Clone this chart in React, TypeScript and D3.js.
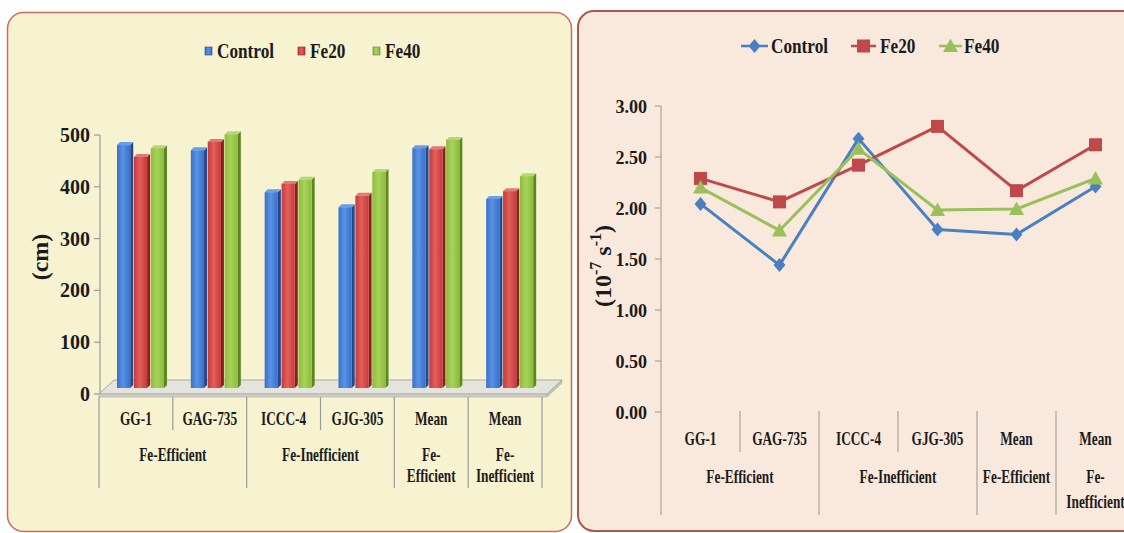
import React from "react";
import * as d3 from "d3";

// ---------- data ----------
const categoryKeys = ["GG-1", "GAG-735", "ICCC-4", "GJG-305", "Mean Fe-Efficient", "Mean Fe-Inefficient"];
const categoryLabels = ["GG-1", "GAG-735", "ICCC-4", "GJG-305", "Mean", "Mean"];
const seriesNames = ["Control", "Fe20", "Fe40"];

// left chart: length (cm)
const lengthControl = [469, 459, 378, 349, 463, 365];
const lengthFe20 = [446, 475, 394, 371, 461, 380];
const lengthFe40 = [463, 490, 402, 417, 479, 409];

// right chart: rate (10^-7 s^-1)
const rateControl = [2.04, 1.44, 2.68, 1.79, 1.74, 2.21];
const rateFe20 = [2.29, 2.06, 2.42, 2.8, 2.17, 2.62];
const rateFe40 = [2.2, 1.78, 2.58, 1.98, 1.99, 2.29];

const leftTicks = [0, 100, 200, 300, 400, 500];
const rightTicks = [0, 0.5, 1, 1.5, 2, 2.5, 3];

// group labels (span in categories, text lines)
const groupSpans = [2, 2, 1, 1];
const leftGroupLines = [["Fe-Efficient"], ["Fe-Inefficient"], ["Fe-", "Efficient"], ["Fe-", "Inefficient"]];
const rightGroupLines = [["Fe-Efficient"], ["Fe-Inefficient"], ["Fe-Efficient"], ["Fe-", "Inefficient"]];

// ---------- styles ----------
const FONT = "'Liberation Serif', 'Times New Roman', serif";
const barFront = ["#3870c8", "#c8383a", "#8cbc3c"];
const barFrontLight = ["#5a92e6", "#e2605a", "#a8d25a"];
const barSide = ["#21488f", "#8a1f22", "#5c8622"];
const barTop = ["#6a9ee8", "#e07a76", "#b4d874"];
const lineColors = ["#4a7fc1", "#c0474a", "#99c05a"];

const T = ({ x, y, children, size = 18, anchor = "middle", sx = 0.74, fill = "#1b1b1b" }: any) => (
  <text
    transform={`translate(${x},${y}) scale(${sx},1)`}
    textAnchor={anchor}
    dominantBaseline="central"
    fontSize={size}
    fontWeight="bold"
    fontFamily={FONT}
    fill={fill}
  >
    {children}
  </text>
);

function Marker({ kind, x, y, color }: any) {
  if (kind === 0) {
    const s = 7;
    return <path d={`M${x},${y - s} L${x + s * 0.85},${y} L${x},${y + s} L${x - s * 0.85},${y} Z`} fill={color} />;
  }
  if (kind === 1) {
    const s = 6.5;
    return <rect x={x - s} y={y - s} width={2 * s} height={2 * s} fill={color} />;
  }
  const s = 7.5;
  return <path d={`M${x},${y - s} L${x + s},${y + s * 0.8} L${x - s},${y + s * 0.8} Z`} fill={color} />;
}

function LeftChart() {
  const x0 = d3.scaleBand<string>().domain(categoryKeys).range([99, 542]).padding(0);
  const x1 = d3.scaleBand<string>().domain(seriesNames).range([18, 68]).paddingInner(0.04);
  const y = d3.scaleLinear().domain([0, 500]).range([394, 135]);
  const series = [lengthControl, lengthFe20, lengthFe40];
  const depth = 3;
  const lift = 6;
  const bw = x1.bandwidth();
  const fw = bw - depth;

  let acc = 0;
  const groupStarts = groupSpans.map((s) => {
    const st = acc;
    acc += s;
    return st;
  });

  return (
    <g>
      <defs>
        {barFront.map((c, i) => (
          <linearGradient key={i} id={`bg${i}`} x1="0" x2="1" y1="0" y2="0">
            <stop offset="0" stopColor={c} />
            <stop offset="0.45" stopColor={barFrontLight[i]} />
            <stop offset="1" stopColor={c} />
          </linearGradient>
        ))}
      </defs>
      {/* legend */}
      {seriesNames.map((s, i) => {
        const sqx = [205, 298, 373][i];
        return (
          <g key={s}>
            <rect x={sqx} y={47} width={7} height={8} fill={`url(#bg${i})`} stroke={barSide[i]} strokeWidth={0.6} />
            <T x={sqx + 12} y={51} size={21} anchor="start" sx={0.82}>
              {s}
            </T>
          </g>
        );
      })}
      {/* y axis title */}
      <text
        transform="translate(40,257) rotate(-90)"
        textAnchor="middle"
        dominantBaseline="central"
        fontSize={24}
        fontWeight="bold"
        fontFamily={FONT}
        fill="#1b1b1b"
      >
        (cm)
      </text>
      {/* y axis */}
      <line x1={100} x2={100} y1={y(500)} y2={y(0)} stroke="#9a9a9a" strokeWidth={1.2} />
      {leftTicks.map((t) => (
        <g key={t}>
          <line x1={94} x2={100} y1={y(t)} y2={y(t)} stroke="#9a9a9a" strokeWidth={1.2} />
          <T x={90} y={y(t)} size={20} anchor="end" sx={1}>
            {t}
          </T>
        </g>
      ))}
      {/* floor */}
      <polygon points={`99,394 547,394 562,380 114,380`} fill="#e4e4dc" stroke="#a8a8a0" strokeWidth={1} />
      <polygon points={`99,394 547,394 547,397 99,397`} fill="#cfcfc8" stroke="#a8a8a0" strokeWidth={0.6} />
      <polygon points={`547,394 562,380 562,383 547,397`} fill="#c4c4bc" stroke="#a8a8a0" strokeWidth={0.6} />
      {/* bars */}
      {categoryKeys.map((k, ci) =>
        series.map((vals, si) => {
          const bx = (x0(k) as number) + (x1(seriesNames[si]) as number);
          const top = y(vals[ci]) - lift;
          const base = y(0) - lift;
          return (
            <g key={`${k}-${si}`}>
              <polygon
                points={`${bx + fw},${top} ${bx + fw + depth},${top - depth} ${bx + fw + depth},${base - depth} ${bx + fw},${base}`}
                fill={barSide[si]}
              />
              <polygon
                points={`${bx},${top} ${bx + fw},${top} ${bx + fw + depth},${top - depth} ${bx + depth},${top - depth}`}
                fill={barTop[si]}
              />
              <rect x={bx} y={top} width={fw} height={base - top} fill={`url(#bg${si})`} />
            </g>
          );
        })
      )}
      {/* category separators */}
      {d3.range(categoryKeys.length + 1).map((i) => {
        const xx = i < categoryKeys.length ? (x0(categoryKeys[i]) as number) : 542;
        const isGroup = i === categoryKeys.length || groupStarts.includes(i);
        return <line key={i} x1={xx} x2={xx} y1={397} y2={isGroup ? 488 : 430} stroke="#9a9a9a" strokeWidth={1.2} />;
      })}
      {categoryLabels.map((l, i) => (
        <T key={i} x={(x0(categoryKeys[i]) as number) + x0.bandwidth() / 2} y={419}>
          {l}
        </T>
      ))}
      {leftGroupLines.map((lines, gi) => {
        const a = x0(categoryKeys[groupStarts[gi]]) as number;
        const cx = a + (x0.bandwidth() * groupSpans[gi]) / 2;
        return lines.map((ln, li) => (
          <T key={`${gi}-${li}`} x={cx} y={455 + li * 21}>
            {ln}
          </T>
        ));
      })}
    </g>
  );
}

function RightChart() {
  const x = d3.scaleBand<string>().domain(categoryKeys).range([661, 1135]).padding(0);
  const y = d3.scaleLinear().domain([0, 3]).range([412, 106]);
  const series = [rateControl, rateFe20, rateFe40];
  const line = d3
    .line<number>()
    .x((_, i) => (x(categoryKeys[i]) as number) + x.bandwidth() / 2)
    .y((d) => y(d));

  let acc = 0;
  const groupStarts = groupSpans.map((s) => {
    const st = acc;
    acc += s;
    return st;
  });

  const legendPos = [
    [741, 768, 771],
    [851, 876, 880],
    [939, 962, 964],
  ];

  return (
    <g>
      {seriesNames.map((s, i) => {
        const [a, b, t] = legendPos[i];
        return (
          <g key={s}>
            <line x1={a} x2={b} y1={46} y2={46} stroke={lineColors[i]} strokeWidth={2.5} />
            <Marker kind={i} x={(a + b) / 2} y={46} color={lineColors[i]} />
            <T x={t} y={46} size={21} anchor="start" sx={0.82}>
              {s}
            </T>
          </g>
        );
      })}
      <text
        transform="translate(603,266) rotate(-90)"
        textAnchor="middle"
        dominantBaseline="central"
        fontSize={24}
        fontWeight="bold"
        fontFamily={FONT}
        fill="#1b1b1b"
      >
        (10
        <tspan fontSize={16} dy={-8}>
          -7
        </tspan>
        <tspan dy={8}> s</tspan>
        <tspan fontSize={16} dy={-8}>
          -1
        </tspan>
        <tspan dy={8}>)</tspan>
      </text>
      <line x1={661} x2={661} y1={y(3)} y2={515} stroke="#a9a39e" strokeWidth={1.2} />
      {rightTicks.map((t) => (
        <g key={t}>
          <line x1={655} x2={661} y1={y(t)} y2={y(t)} stroke="#a9a39e" strokeWidth={1.2} />
          <T x={647} y={y(t)} size={19} anchor="end" sx={0.95}>
            {t.toFixed(2)}
          </T>
        </g>
      ))}
      {d3.range(1, categoryKeys.length + 1).map((i) => {
        const xx = i < categoryKeys.length ? (x(categoryKeys[i]) as number) : 1135;
        const isGroup = i === categoryKeys.length || groupStarts.includes(i);
        return <line key={i} x1={xx} x2={xx} y1={411} y2={isGroup ? 515 : 452} stroke="#a9a39e" strokeWidth={1.2} />;
      })}
      {categoryLabels.map((l, i) => (
        <T key={i} x={(x(categoryKeys[i]) as number) + x.bandwidth() / 2} y={439}>
          {l}
        </T>
      ))}
      {rightGroupLines.map((lines, gi) => {
        const a = x(categoryKeys[groupStarts[gi]]) as number;
        const cx = a + (x.bandwidth() * groupSpans[gi]) / 2;
        return lines.map((ln, li) => (
          <T key={`${gi}-${li}`} x={cx} y={477 + li * 25}>
            {ln}
          </T>
        ));
      })}
      {series.map((vals, si) => (
        <g key={si}>
          <path d={line(vals) as string} fill="none" stroke={lineColors[si]} strokeWidth={3} strokeLinejoin="round" />
          {vals.map((v, i) => (
            <Marker
              key={i}
              kind={si}
              x={(x(categoryKeys[i]) as number) + x.bandwidth() / 2}
              y={y(v)}
              color={lineColors[si]}
            />
          ))}
        </g>
      ))}
    </g>
  );
}

export default function App() {
  return (
    <div style={{ position: "absolute", left: 0, top: 0 }}>
      <svg width={1124} height={533} style={{ display: "block", background: "#ffffff" }}>
        <rect x={7.5} y={12.5} width={564} height={519} rx={16} fill="#f7f2cf" stroke="#cf6a62" strokeWidth={1.5} />
        <rect x={578} y={11} width={570} height={520} rx={16} fill="#f9e9dc" stroke="#a8574d" strokeWidth={2} />
        <LeftChart />
        <RightChart />
      </svg>
    </div>
  );
}
